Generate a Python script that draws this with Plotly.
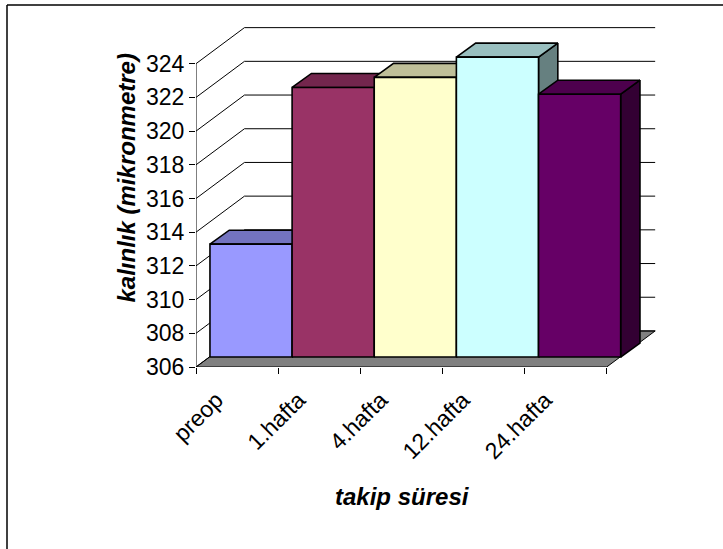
import plotly.graph_objects as go

# Mean thickness per follow-up visit
categories = ["preop", "1.hafta", "4.hafta", "12.hafta", "24.hafta"]
values = [312.7, 322.0, 322.6, 323.8, 321.6]
y_ticks = [306, 308, 310, 312, 314, 316, 318, 320, 322, 324]

front_colors = ["#9999FF", "#993366", "#FFFFCC", "#CCFFFF", "#660066"]
top_colors = ["#7373BF", "#73264D", "#BFBF99", "#99BFBF", "#4D004D"]
side_colors = ["#4D4D80", "#4D1A33", "#808066", "#668080", "#330033"]

Y_MIN = 306
N = len(categories)

# Oblique projection offsets, in axis units (x: categories, y: value units)
WALL_DX, WALL_DY = 0.59, 2.14      # front plane -> back wall
FRONT_DX, FRONT_DY = 0.17, 0.59    # front plane -> bar front faces
DEPTH_DX, DEPTH_DY = 0.235, 0.83   # bar front face -> bar back face

FONT = "Liberation Sans, Arial, sans-serif"

fig = go.Figure()


def poly(xs, ys, fill, lw=1.6):
    fig.add_trace(go.Scatter(
        x=xs + [xs[0]], y=ys + [ys[0]], mode="lines", fill="toself",
        fillcolor=fill, line=dict(color="black", width=lw),
        hoverinfo="skip", showlegend=False))


# floor
poly([0, N, N + WALL_DX, WALL_DX],
     [Y_MIN, Y_MIN, Y_MIN + WALL_DY, Y_MIN + WALL_DY], "#808080", 1)

# gridlines running over the left wall and across the back wall
gx, gy = [], []
for v in y_ticks:
    gx += [0, WALL_DX, N + WALL_DX, None]
    gy += [v, v + WALL_DY, v + WALL_DY, None]
fig.add_trace(go.Scatter(x=gx, y=gy, mode="lines",
                         line=dict(color="black", width=1),
                         hoverinfo="skip", showlegend=False))

# value axis line
fig.add_trace(go.Scatter(x=[0, 0], y=[Y_MIN, y_ticks[-1]], mode="lines",
                         line=dict(color="black", width=1),
                         hoverinfo="skip", showlegend=False))

# 3-D columns, painted left to right
for i, v in enumerate(values):
    x0 = i + FRONT_DX
    x1 = i + 1 + FRONT_DX
    yb = Y_MIN + FRONT_DY
    yt = v + FRONT_DY
    poly([x1, x1 + DEPTH_DX, x1 + DEPTH_DX, x1],
         [yb, yb + DEPTH_DY, yt + DEPTH_DY, yt], side_colors[i])
    poly([x0, x1, x1 + DEPTH_DX, x0 + DEPTH_DX],
         [yt, yt, yt + DEPTH_DY, yt + DEPTH_DY], top_colors[i])
    poly([x0, x1, x1, x0], [yb, yb, yt, yt], front_colors[i])

W, H = 723, 549
L, R, T, B = 196, 59, 20, 182
pw, ph = W - L - R, H - T - B
PX_CAT = 82.14
PX_UNIT = 16.85


def px(xp):
    return (xp - L) / pw


def py(yp):
    return (H - B - yp) / ph


fig.update_layout(
    width=W, height=H,
    margin=dict(l=L, r=R, t=T, b=B, autoexpand=False),
    paper_bgcolor="white", plot_bgcolor="white",
    showlegend=False,
    xaxis=dict(
        range=[0, pw / PX_CAT],
        showgrid=False, zeroline=False, showline=False,
        tickmode="array",
        tickvals=[i + 0.25 for i in range(N)],
        ticktext=categories,
        tickangle=-45, ticks="",
        ticklabelstandoff=14,
        tickfont=dict(family=FONT, size=23, color="black"),
        minor=dict(tickmode="array", tickvals=list(range(N + 1)),
                   ticks="outside", ticklen=6, tickcolor="black",
                   tickwidth=1, showgrid=False),
        fixedrange=True,
    ),
    yaxis=dict(
        range=[Y_MIN, Y_MIN + ph / PX_UNIT],
        showgrid=False, zeroline=False, showline=False,
        tickmode="array", tickvals=y_ticks,
        ticks="outside", ticklen=6, tickcolor="black", tickwidth=1,
        tickfont=dict(family=FONT, size=23, color="black"),
        fixedrange=True,
    ),
    annotations=[
        dict(text="<b><i>kalınlık (mikronmetre)</i></b>", textangle=-90,
             x=px(110), y=py(178), xref="paper", yref="paper",
             showarrow=False, font=dict(family=FONT, size=24, color="black")),
        dict(text="<b><i>takip süresi</i></b>",
             x=px(402), y=py(512), xref="paper", yref="paper",
             showarrow=False, font=dict(family=FONT, size=24, color="black")),
    ],
    shapes=[
        dict(type="line", xref="paper", yref="paper",
             x0=px(7), x1=px(W), y0=py(5), y1=py(5),
             line=dict(color="black", width=1.5)),
        dict(type="line", xref="paper", yref="paper",
             x0=px(7), x1=px(7), y0=py(5), y1=py(H),
             line=dict(color="black", width=1.5)),
    ],
)

fig.write_html("out.html")
